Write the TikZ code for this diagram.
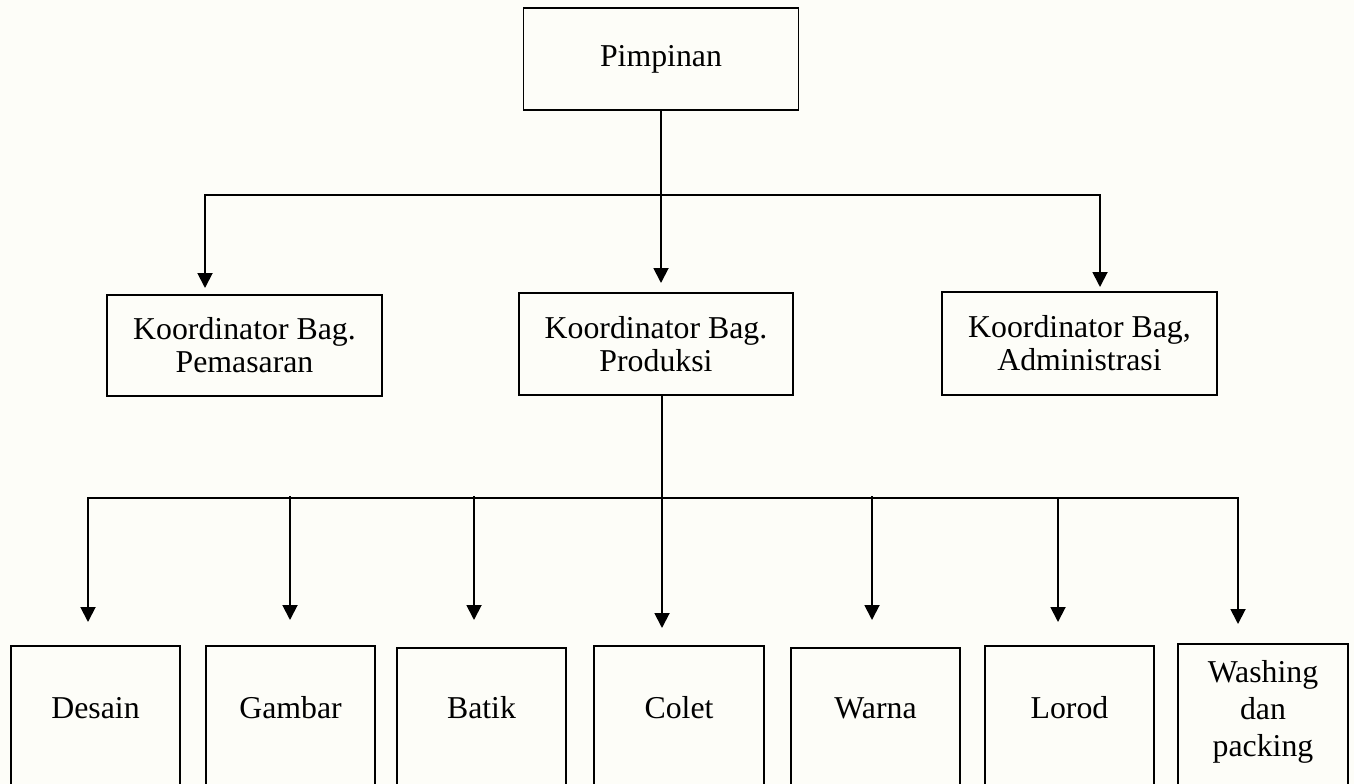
\documentclass[tikz,border=0pt]{standalone}
\usepackage{fontspec}
\setmainfont{Liberation Serif}
\usetikzlibrary{arrows.meta}
\definecolor{bgcream}{RGB}{253,253,248}
\begin{document}
\begin{tikzpicture}[x=1pt,y=-1pt,line width=1.9pt,
  box/.style={draw,rectangle,inner sep=0pt,font=\fontsize{31.8}{33}\selectfont,align=center},
  lowbox/.style={draw,rectangle,inner sep=0pt,minimum width=169,minimum height=180,anchor=north},
  lbl/.style={inner sep=0pt,font=\fontsize{31.8}{37}\selectfont,align=center},
  arr/.style={-{Triangle[width=15pt,length=15pt]}}]
\fill[bgcream] (0,0) rectangle (1354,784);
\useasboundingbox (0,0) rectangle (1354,784);

% top
\node[box,minimum width=275,minimum height=102] (pim) at (661,59) {Pimpinan};

% middle row
\node[box,minimum width=275,minimum height=101] (pem) at (244.5,345.5) {Koordinator Bag.\\Pemasaran};
\node[box,minimum width=274,minimum height=102] (pro) at (656,344) {Koordinator Bag.\\Produksi};
\node[box,minimum width=275,minimum height=103] (adm) at (1079.5,343.5) {Koordinator Bag,\\Administrasi};

% connectors top -> middle
\coordinate (busA) at (661,195);
\coordinate (busL) at (205,195);
\coordinate (busR) at (1100,195);
\coordinate (tL) at (205,288);
\coordinate (tM) at (661,283);
\coordinate (tR) at (1100,287);
\draw (pim.south) -- (busA);
\draw[arr] (busA) -- (busL) -- (tL);
\draw[arr] (busA) -- (busR) -- (tR);
\draw[arr] (busA) -- (tM);

% bottom row boxes
\node[lowbox] (des) at (95.5,645) {};
\node[lowbox] (gam) at (290.5,645) {};
\node[lowbox] (bat) at (481.5,647) {};
\node[lowbox,minimum width=170] (col) at (679,645) {};
\node[lowbox] (war) at (875.5,647) {};
\node[lowbox] (lor) at (1069.5,645) {};
\node[lowbox,minimum width=170] (was) at (1263,643) {};

\node[lbl] (desT) at (95.5,708) {Desain};
\node[lbl] (gamT) at (290.5,708) {Gambar};
\node[lbl] (batT) at (481.5,708) {Batik};
\node[lbl] (colT) at (679,708) {Colet};
\node[lbl] (warT) at (875.5,708) {Warna};
\node[lbl] (lorT) at (1069.5,708) {Lorod};
\node[lbl] (wasT) at (1263,712) {Washing\\dan\\packing};

% connectors middle -> bottom
\coordinate (q0) at (662,395);
\coordinate (q) at (662,498);
\coordinate (c1) at (88,498);
\coordinate (c2) at (290,496);
\coordinate (c3) at (474,496);
\coordinate (c5) at (872,496);
\coordinate (c6) at (1058,498);
\coordinate (c7) at (1238,498);
\coordinate (t1) at (88,622);
\coordinate (t2) at (290,620);
\coordinate (t3) at (474,620);
\coordinate (t4) at (662,628);
\coordinate (t5) at (872,620);
\coordinate (t6) at (1058,622);
\coordinate (t7) at (1238,624);
\draw (q0) -- (q);
\draw (c1 |- q) -- (c7 |- q);
\draw[arr] (q) -- (c1) -- (t1);
\draw[arr] (c2) -- (t2);
\draw[arr] (c3) -- (t3);
\draw[arr] (q) -- (t4);
\draw[arr] (c5) -- (t5);
\draw[arr] (c6) -- (t6);
\draw[arr] (q) -- (c7) -- (t7);
\end{tikzpicture}
\end{document}
